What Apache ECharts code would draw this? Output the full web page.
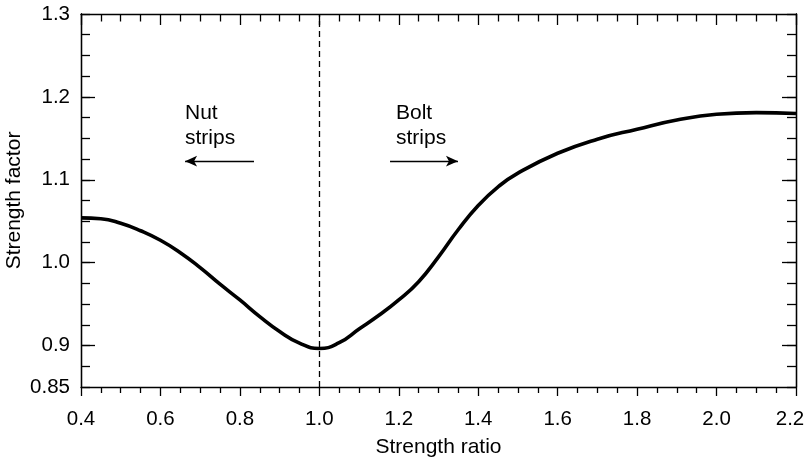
<!DOCTYPE html>
<html>
<head>
<meta charset="utf-8">
<script src="https://cdn.jsdelivr.net/npm/echarts@6/dist/echarts.min.js"></script>
<style>html,body{margin:0;padding:0;background:#fff}#c{width:807px;height:460px}</style>
</head>
<body>
<div id="c"></div>
<script>
const ratio = [0.4,0.45,0.5,0.55,0.6,0.65,0.7,0.75,0.8,0.85,0.9,0.95,1.0,1.05,1.1,1.15,1.2,1.25,1.3,1.35,1.4,1.45,1.5,1.6,1.7,1.8,1.9,2.0,2.1,2.2];
const factor = [1.054,1.053,1.0475,1.0385,1.027,1.012,0.994,0.974,0.955,0.935,0.917,0.903,0.8965,0.9035,0.92,0.9365,0.955,0.977,1.007,1.04,1.069,1.0915,1.108,1.132,1.149,1.161,1.172,1.179,1.181,1.180];
const yLabels = [0.85,0.9,1.0,1.1,1.2,1.3];
const yMajor = [0.9,1.0,1.1,1.2];
const divider = 1.0;
const nutArrow = [[0.8355,1.1225],[0.662,1.1225]];
const boltArrow = [[1.178,1.1225],[1.349,1.1225]];

const FONT = 'Liberation Sans, Arial, Helvetica, sans-serif';
const FS = 21;
const LFS = 20.5;
const black = '#000';
const chart = echarts.init(document.getElementById('c'), null, {renderer:'canvas'});
const axLine = {show:true, lineStyle:{color:black, width:1.3}};
const yBase = {type:'value', min:0.85, max:1.3, splitLine:{show:false}, axisLine:axLine};

chart.setOption({
  animation:false,
  backgroundColor:'#fff',
  grid:{left:81, right:11, top:14, bottom:73, containLabel:false, outerBoundsMode:'none'},
  xAxis:[
    {type:'value', min:0.4, max:2.2, interval:0.2, position:'bottom',
     name:'Strength ratio', nameLocation:'middle', nameGap:50, nameMoveOverlap:false,
     nameTextStyle:{fontFamily:FONT, fontSize:FS, color:black},
     axisLine:axLine, splitLine:{show:false},
     axisTick:{show:true, inside:false, length:9, lineStyle:{color:black, width:1.3}},
     minorTick:{show:true, splitNumber:4, length:6, lineStyle:{color:black, width:1.3}},
     axisLabel:{fontFamily:FONT, fontSize:LFS, color:black, margin:22,
       formatter:v=>(Math.abs(v-2.2)<1e-6?'{r|2.2}':v.toFixed(1)),
       rich:{r:{fontFamily:FONT, fontSize:LFS, color:black, padding:[0,12,0,0]}}}},
    {type:'value', min:0.4, max:2.2, interval:0.2, position:'top',
     axisLine:axLine, splitLine:{show:false},
     axisTick:{show:true, inside:true, length:11, lineStyle:{color:black, width:1.3}},
     minorTick:{show:true, splitNumber:4, length:7.5, lineStyle:{color:black, width:1.3}},
     axisLabel:{show:false}}
  ],
  yAxis:[
    Object.assign({}, yBase, {position:'left', interval:0.025,
     name:'Strength factor', nameLocation:'middle', nameGap:56, nameRotate:90, nameMoveOverlap:false,
     nameTextStyle:{fontFamily:FONT, fontSize:FS, color:black},
     axisTick:{show:true, inside:true, length:9, lineStyle:{color:black, width:1.3}},
     axisLabel:{show:true, customValues:yLabels, fontFamily:FONT, fontSize:LFS, color:black, margin:11,
       formatter:v=>(Math.abs(v-0.85)<1e-6?'0.85':v.toFixed(1))}}),
    Object.assign({}, yBase, {position:'left',
     axisTick:{show:true, inside:true, length:14, customValues:yMajor, lineStyle:{color:black, width:1.3}},
     axisLabel:{show:false}}),
    Object.assign({}, yBase, {position:'right', interval:0.025,
     axisTick:{show:true, inside:true, length:9, lineStyle:{color:black, width:1.3}},
     axisLabel:{show:false}}),
    Object.assign({}, yBase, {position:'right',
     axisTick:{show:true, inside:true, length:14, customValues:yMajor, lineStyle:{color:black, width:1.3}},
     axisLabel:{show:false}})
  ],
  graphic:[
    {type:'text', left:185, top:101, style:{text:'Nut\nstrips', font:FS+'px '+FONT, fill:black, lineHeight:25}},
    {type:'text', left:396, top:101, style:{text:'Bolt\nstrips', font:FS+'px '+FONT, fill:black, lineHeight:25}}
  ],
  series:[
    {type:'line', xAxisIndex:0, yAxisIndex:0, smooth:0.5, showSymbol:false,
     data:ratio.map((x,i)=>[x,factor[i]]),
     lineStyle:{color:black, width:3.6}, silent:true,
     markLine:{silent:true, animation:false, label:{show:false},
       data:[
         [{coord:[divider,0.85], symbol:'none', lineStyle:{type:[6,4], width:1.3, color:black}},
          {coord:[divider,1.3], symbol:'none'}],
         [{coord:nutArrow[0], symbol:'none', lineStyle:{type:'solid', width:1.3, color:black}},
          {coord:nutArrow[1], symbol:'arrow', symbolSize:[8,12]}],
         [{coord:boltArrow[0], symbol:'none', lineStyle:{type:'solid', width:1.3, color:black}},
          {coord:boltArrow[1], symbol:'arrow', symbolSize:[8,12]}]
       ]}}
  ]
});
</script>
</body>
</html>
